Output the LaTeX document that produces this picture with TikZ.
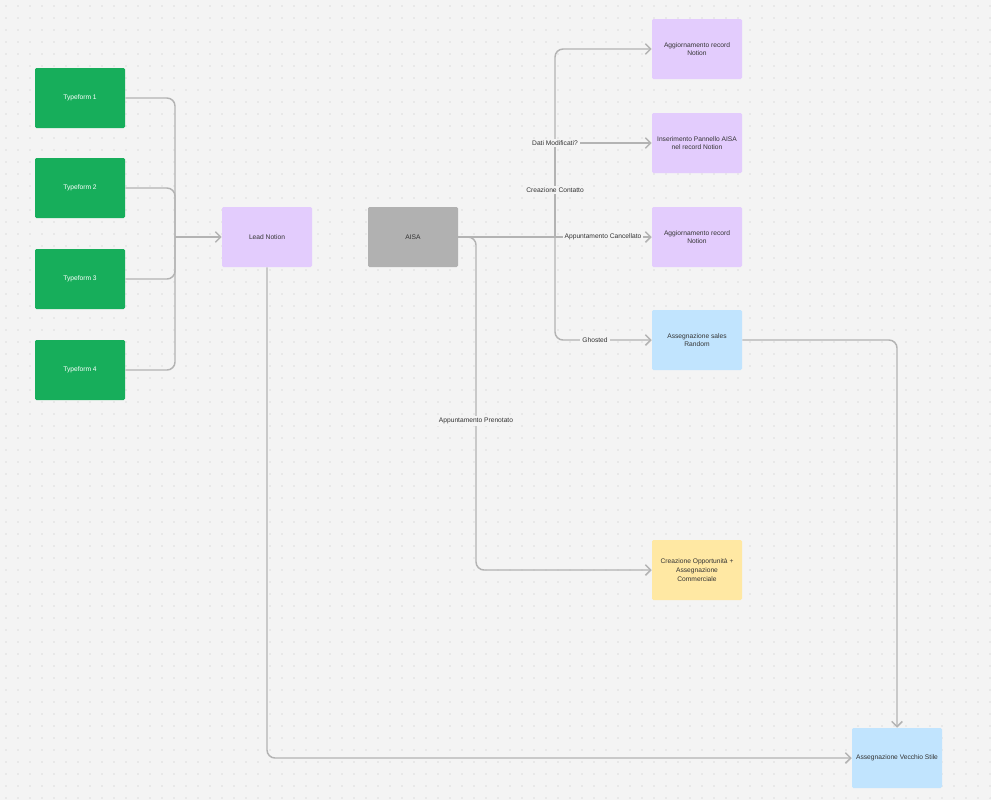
\documentclass[tikz,border=0pt]{standalone}
\usepackage{fontspec}
\setmainfont{Liberation Sans}
\usetikzlibrary{arrows.meta}
\definecolor{bg}{HTML}{F4F4F4}
\definecolor{grn}{HTML}{17AE5B}
\definecolor{lil}{HTML}{E3CCFD}
\definecolor{gry}{HTML}{B1B1B1}
\definecolor{blu}{HTML}{C1E4FE}
\definecolor{yel}{HTML}{FFE8A3}
\definecolor{ln}{HTML}{B3B3B3}
\definecolor{dotc}{HTML}{C4C4C4}
\begin{document}
\begin{tikzpicture}[x=0.75pt,y=-0.75pt,
  box/.style={minimum width=67.5pt,minimum height=45pt,inner sep=1pt,rounded corners=1pt,align=center,font=\fontsize{5}{6.5}\selectfont,text=black!80},
  conn/.style={draw=ln,line width=1.1pt,rounded corners=6pt,-{Straight Barb[length=4pt,width=8pt]}},
  line/.style={draw=ln,line width=1.1pt,rounded corners=6pt},
  lab/.style={fill=bg,inner sep=1.5pt,font=\fontsize{5}{6}\selectfont,text=black!80}]
\fill[bg] (0,0) rectangle (991,800);
\useasboundingbox (0,0) rectangle (991,800);
\foreach \i in {0,...,82}{\foreach \j in {0,...,66}{\fill[dotc] (6+12*\i,6+12*\j) circle (0.4pt);}}
\foreach \n/\y in {1/98,2/188,3/279,4/370}{\node[box,fill=grn,text=white] (t\n) at (80,\y) {Typeform \n};}
\node[box,fill=lil] (lead) at (267,237) {Lead Notion};
\node[box,fill=gry] (aisa) at (413,237) {AISA};
\node[box,fill=lil] (r1) at (697,49) {Aggiornamento record\\Notion};
\node[box,fill=lil] (r2) at (697,143) {Inserimento Pannello AISA\\nel record Notion};
\node[box,fill=lil] (r3) at (697,237) {Aggiornamento record\\Notion};
\node[box,fill=blu] (r4) at (697,340) {Assegnazione sales\\Random};
\node[box,fill=yel] (r5) at (697,570) {Creazione Opportunità +\\Assegnazione\\Commerciale};
\node[box,fill=blu] (vs) at (897,758) {Assegnazione Vecchio Stile};
\coordinate (lm) at (175,237);
\foreach \n in {1,2,3,4}{\draw[line] (t\n.east) -| (lm);}
\draw[conn] (lm) -- (lead.west);
\coordinate (am) at (555,237);
\draw[line] (aisa.east) -- (am);
\draw[conn] (am) |- (r1.west);
\draw[line] (am) -- (555,143);
\draw[conn] (555,143) -- (r2.west);
\draw[conn] (am) -- (r3.west);
\draw[conn] (am) |- (r4.west);
\draw[conn] (aisa.east) -- (476,237) |- (r5.west);
\draw[conn] (r4.east) -| (vs.north);
\draw[conn] (lead.south) |- (vs.west);
\node[lab] at (555,143) {Dati Modificati?};
\node[lab] at (555,190) {Creazione Contatto};
\node[lab] at (603,237) {Appuntamento Cancellato};
\node[lab] at (595,340) {Ghosted};
\node[lab] at (476,421) {Appuntamento Prenotato};
\end{tikzpicture}
\end{document}
